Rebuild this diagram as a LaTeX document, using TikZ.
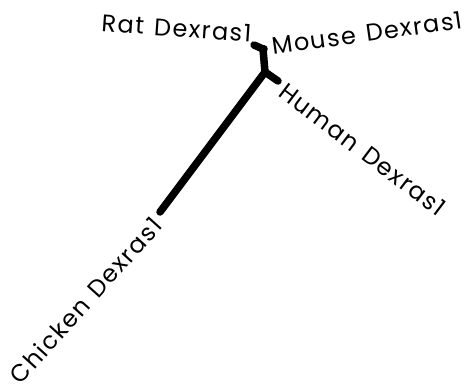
\documentclass[tikz,border=0pt]{standalone}
\usepackage{fontspec}
\setmainfont[LetterSpace=6,WordSpace=1.3]{Poppins}
\begin{document}
\begin{tikzpicture}[x=1pt,y=-1pt,
  branch/.style={line width=7.5pt,line cap=round,line join=round},
  leaflabel/.style={font=\fontsize{24}{27}\selectfont,inner sep=0pt}]
\useasboundingbox (0,0) rectangle (469,390);
\coordinate (I) at (265,72);
\coordinate (J) at (263,49);
\coordinate (rat) at (254,45);
\coordinate (mouse) at (264,49);
\coordinate (human) at (278,81);
\coordinate (chicken) at (160,212);
\draw[branch] (rat) -- (J) -- (I) -- (chicken);
\draw[branch] (J) -- (mouse);
\draw[branch] (I) -- (human);
\node[leaflabel,anchor=base east,rotate=-4] (ratlbl) at (251,42) {Rat Dexras1};
\node[leaflabel,anchor=base west,rotate=8] (mouselbl) at (273,55) {Mouse Dexras1};
\node[leaflabel,anchor=west,rotate=-37] (humanlbl) at (282,89) {Human Dexras1};
\node[leaflabel,anchor=east,rotate=48] (chickenlbl) at (157,221) {Chicken Dexras1};
\end{tikzpicture}
\end{document}
